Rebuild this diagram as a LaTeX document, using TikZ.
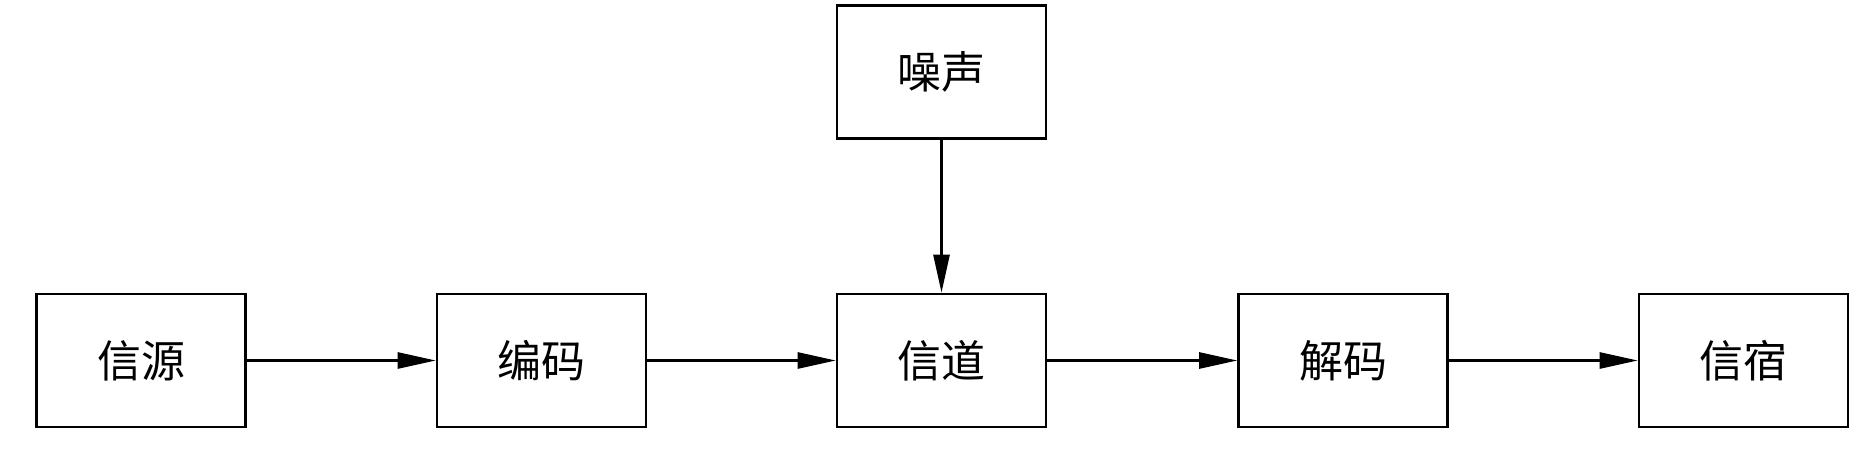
\documentclass[tikz,border=0pt]{standalone}
\usepackage{fontspec}
\newfontfamily\cjk{Noto Sans CJK SC}
\usetikzlibrary{arrows.meta}
\begin{document}
\begin{tikzpicture}[x=1pt,y=-1pt,
  blk/.style={draw=black,line width=2.6pt,minimum width=209pt,minimum height=133pt,inner sep=0pt,
    font=\cjk\fontsize{44}{44}\selectfont,text=black},
  arr/.style={line width=2.6pt,-{Triangle[length=38pt,width=16pt]}}]
\useasboundingbox (0,0) rectangle (1867,462);
\node[blk] (src) at (141,360.5) {信源};
\node[blk] (enc) at (541.5,360.5) {编码};
\node[blk] (ch)  at (941.5,360.5) {信道};
\node[blk] (noi) at (941.5,72) {噪声};
\node[blk] (dec) at (1343,360.5) {解码};
\node[blk] (snk) at (1743.5,360.5) {信宿};
\draw[arr] (src) -- (enc);
\draw[arr] (enc) -- (ch);
\draw[arr] (ch) -- (dec);
\draw[arr] (dec) -- (snk);
\draw[arr] (noi) -- (ch);
\end{tikzpicture}
\end{document}
